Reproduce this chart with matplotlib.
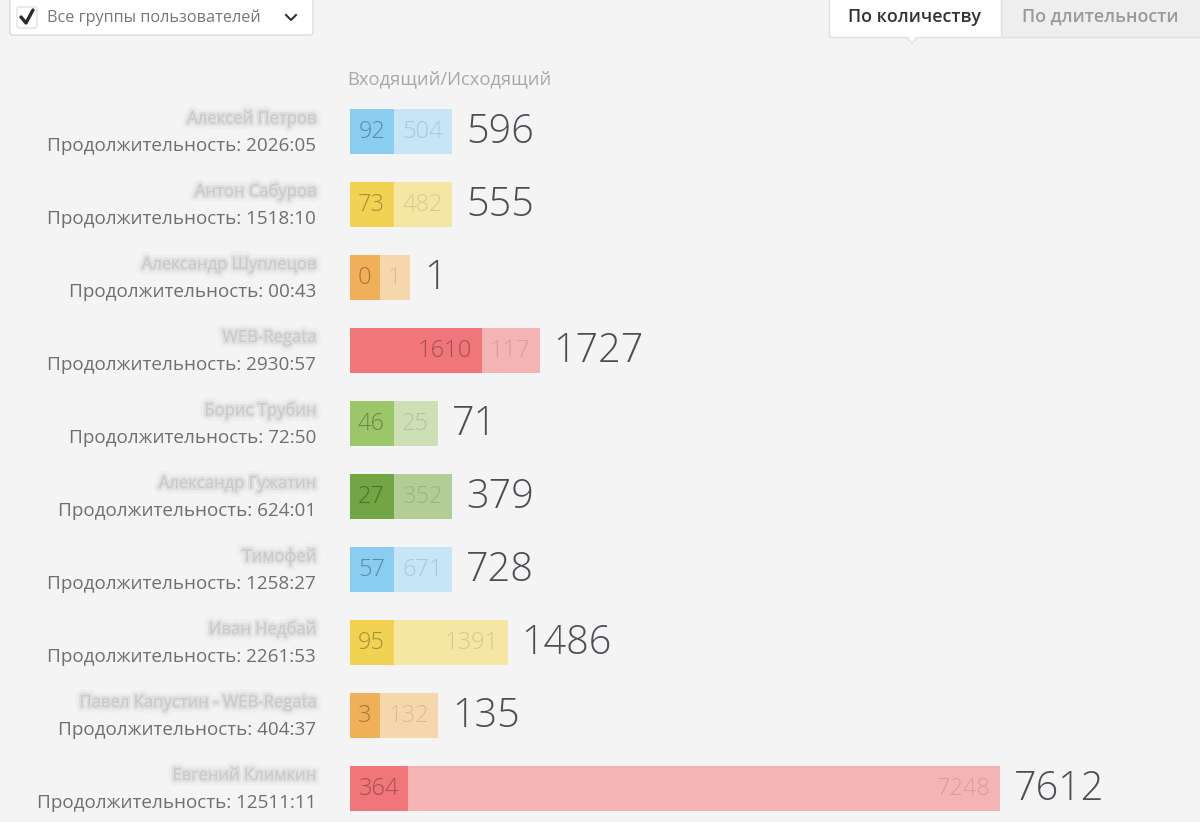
import matplotlib
matplotlib.use("Agg")
import matplotlib.pyplot as plt
from matplotlib.patches import FancyBboxPatch, Rectangle, Polygon
import matplotlib.patheffects as pe

# ---------------- data ----------------
names = ["Алексей Петров", "Антон Сабуров", "Александр Шуплецов", "WEB-Regata",
         "Борис Трубин", "Александр Гужатин", "Тимофей", "Иван Недбай",
         "Павел Капустин - WEB-Regata", "Евгений Климкин"]
durations = ["2026:05", "1518:10", "00:43", "2930:57", "72:50",
             "624:01", "1258:27", "2261:53", "404:37", "12511:11"]
incoming = [92, 73, 0, 1610, 46, 27, 57, 95, 3, 364]
outgoing = [504, 482, 1, 117, 25, 352, 671, 1391, 132, 7248]
header = "Входящий/Исходящий"
dropdown_label = "Все группы пользователей"
tab_labels = ["По количеству", "По длительности"]

palette_in = ["#8acdf0", "#f2d252", "#f0b05a", "#f07679", "#9cc66a", "#72a544"]
palette_out = ["#c6e5f6", "#f5e6a4", "#f5d7ab", "#f4b4b4", "#cde0b5", "#b2cd96"]

W, H = 1200, 822
FONT = "Open Sans"
plt.rcParams["font.family"] = [FONT, "DejaVu Sans"]

fig = plt.figure(figsize=(W / 100, H / 100), dpi=100)
fig.patch.set_facecolor("#f4f4f4")

# overlay axes in pixel coordinates for UI chrome
ui = fig.add_axes([0, 0, 1, 1])
ui.set_xlim(0, W)
ui.set_ylim(H, 0)
ui.axis("off")
ui.patch.set_alpha(0)

# dropdown
ui.add_patch(FancyBboxPatch((10, -8), 303, 43, boxstyle="round,pad=0,rounding_size=3",
                            fc="white", ec="#dcdcdc", lw=1))
ui.add_patch(FancyBboxPatch((17, 7), 20, 21, boxstyle="round,pad=0,rounding_size=2",
                            fc="white", ec="#e2e2e2", lw=1))
ui.plot([21, 26, 33], [17, 23, 10], color="#2a2a2a", lw=2.4, solid_capstyle="round")
ui.text(47, 18, dropdown_label, fontsize=11.7, color="#777777", va="center", ha="left")
ui.plot([286, 291, 296], [15, 20, 15], color="#333333", lw=1.5)

# tabs
ui.add_patch(Rectangle((1001, -2), 200, 39, fc="#eeeeee", ec="#e0e0e0", lw=1))
ui.add_patch(Rectangle((829, -2), 172, 39, fc="white", ec="#e0e0e0", lw=1))
ui.add_patch(Polygon([[906, 36.5], [918, 36.5], [912, 43]], closed=True, fc="white", ec="#e0e0e0", lw=1))
ui.plot([906.5, 917.5], [36.5, 36.5], color="white", lw=1.5)
ui.text(915, 17, tab_labels[0], fontsize=12.9, color="#333333", ha="center", va="center",
        fontweight="semibold")
ui.text(1100, 17, tab_labels[1], fontsize=12.9, color="#9a9a9a", ha="center", va="center",
        fontweight="semibold")

ui.text(347, 79, header, fontsize=13.2, color="#a8a8a8", ha="left", va="center")

# ---------------- bars axes ----------------
px_per_unit = 0.08168
x0_px = 350
row0_px, row_step = 131, 73
ax = fig.add_axes([x0_px / W, 0, (W - x0_px) / W, 1])
ax.set_xlim(0, (W - x0_px) / px_per_unit)
ax.set_ylim((H - row0_px) / row_step, -row0_px / row_step)
ax.axis("off")
ax.patch.set_alpha(0)

bar_h = 45 / row_step


def seg_width(v):
    n = len(str(v))
    min_px = 16 + 14 * n
    return max(v, min_px / px_per_unit)


pad = 9 / px_per_unit
gap = 14 / px_per_unit
blur = [pe.withStroke(linewidth=8, foreground="#dedede", alpha=0.25),
        pe.withStroke(linewidth=3.5, foreground="#d0d0d0", alpha=0.45)]

for i, (nm, du, vi, vo) in enumerate(zip(names, durations, incoming, outgoing)):
    ci = palette_in[i % len(palette_in)]
    co = palette_out[i % len(palette_out)]
    wi = seg_width(vi)
    wo = seg_width(vo)
    ax.barh(i, wi, left=0, height=bar_h, color=ci, edgecolor="none")
    ax.barh(i, wo, left=wi, height=bar_h, color=co, edgecolor="none")
    ax.text(wi - pad, i + 0.01, str(vi), ha="right", va="center", fontsize=17,
            color="#000000", alpha=0.32, fontweight="light")
    ax.text(wi + wo - pad, i + 0.01, str(vo), ha="right", va="center", fontsize=17,
            color="#000000", alpha=0.12, fontweight="light")
    ax.text(wi + wo + gap, i + 0.02, str(vi + vo), ha="left", va="center", fontsize=28.5,
            color="#4a4f55", fontweight="light")
    # names (blurred in reference)
    ax.text(-34 / px_per_unit, i - 12 / row_step, nm, ha="right", va="center", fontsize=12,
            color="#c8c8c8", alpha=0.6, path_effects=blur)
    ax.text(-34 / px_per_unit, i + 15 / row_step, "Продолжительность: " + du, ha="right",
            va="center", fontsize=13.6, color="#6f6f6f")

fig.savefig("out.png", dpi=100, facecolor=fig.get_facecolor())
